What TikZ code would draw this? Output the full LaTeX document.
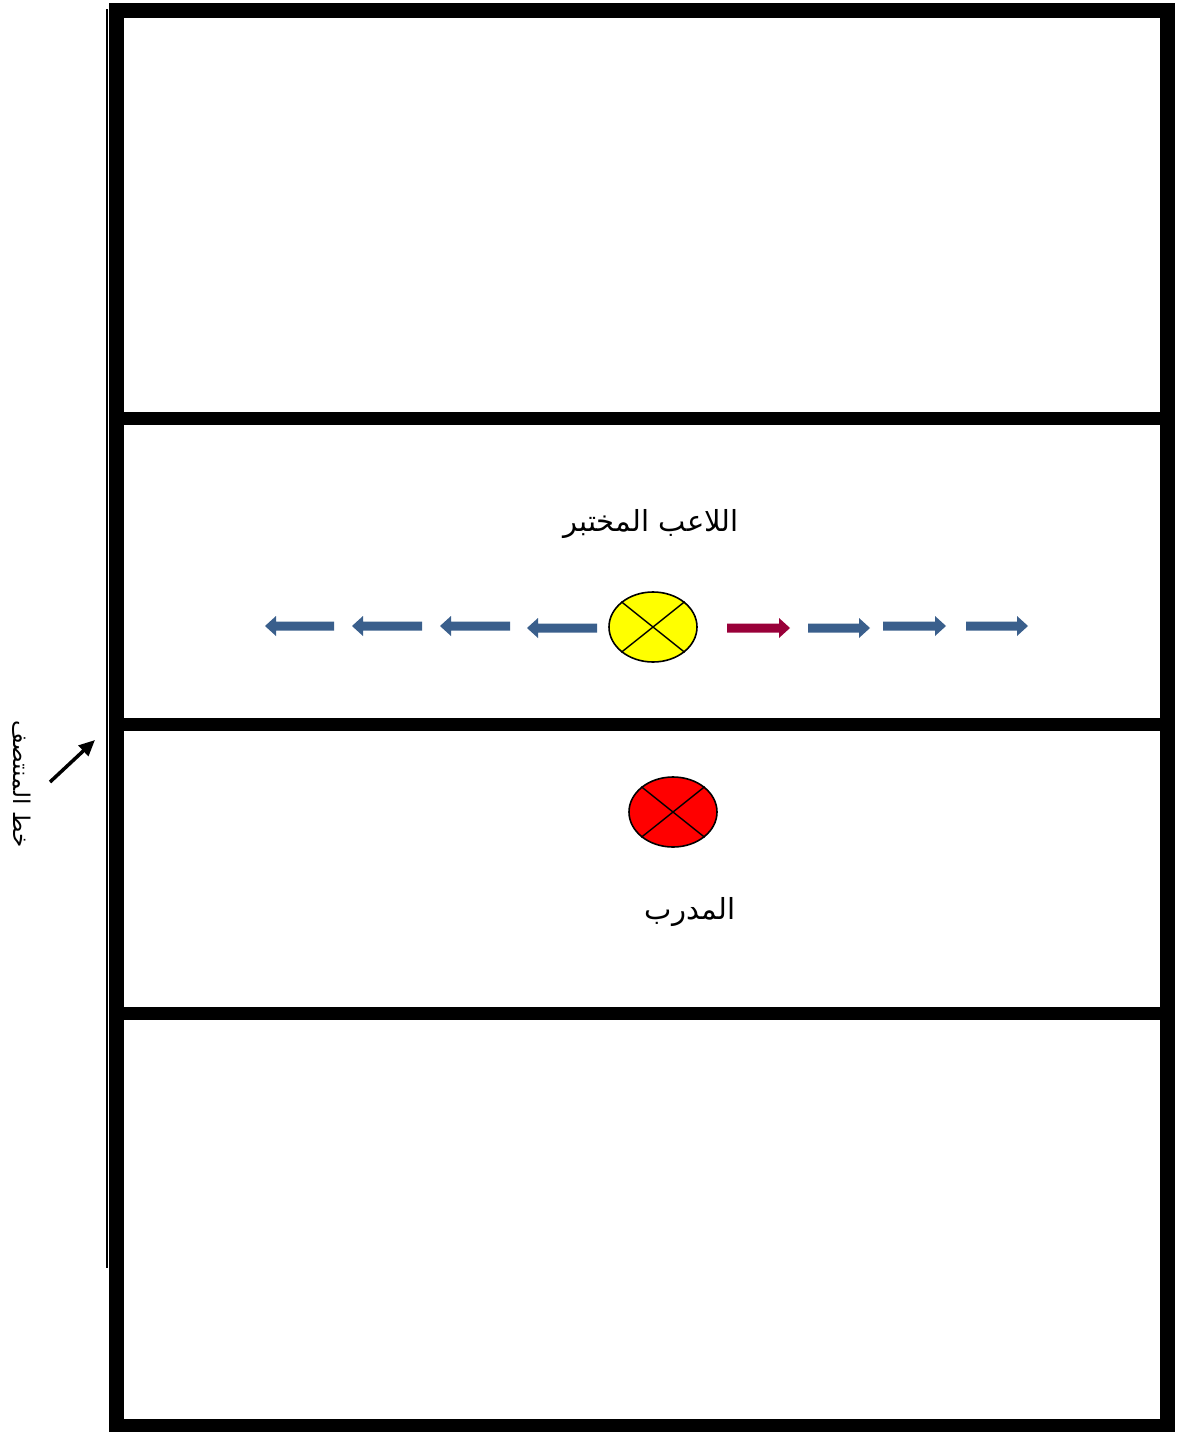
\documentclass[tikz,border=0pt]{standalone}
\usepackage{fontspec}
\newfontfamily\arabicfont[Script=Arabic]{DejaVu Sans}
\TeXXeTstate=1
\usetikzlibrary{shapes.geometric,arrows.meta,calc}
\definecolor{arrblue}{RGB}{58,95,140}
\definecolor{arrred}{RGB}{153,0,57}
\definecolor{plyellow}{RGB}{255,255,0}
\definecolor{plred}{RGB}{255,0,0}
\tikzset{
  court/.style={line width=15pt, line join=miter, line cap=rect},
  divider/.style={line width=13pt},
  player/.style={ellipse, draw=black, line width=1.6pt, minimum width=88pt, minimum height=70pt, inner sep=0pt},
  crossline/.style={line width=1.4pt},
  lbl/.style={font=\arabicfont\fontsize{29}{34}\selectfont, inner sep=0pt},
}
% block arrow pointing right: #1 colour, #2 tail x, #3 tip x, #4 y
\newcommand\blockarr[4]{%
  \fill[#1] (#2,#4-4.5) -- ($(#3,#4-4.5)-(11,0)$) -- ($(#3,#4-10)-(11,0)$) -- (#3,#4) -- ($(#3,#4+10)-(11,0)$) -- ($(#3,#4+4.5)-(11,0)$) -- (#2,#4+4.5) -- cycle;}
% block arrow pointing left
\newcommand\blockarrL[4]{%
  \fill[#1] (#2,#4-4.5) -- ($(#3,#4-4.5)+(11,0)$) -- ($(#3,#4-10)+(11,0)$) -- (#3,#4) -- ($(#3,#4+10)+(11,0)$) -- ($(#3,#4+4.5)+(11,0)$) -- (#2,#4+4.5) -- cycle;}
\begin{document}
\begin{tikzpicture}[x=1pt,y=-1pt]
\useasboundingbox (0,0) rectangle (1177,1432);
% thin outer line
\draw[line width=2pt] (107,9) -- (107,1268);
% court
\draw[court] (116,10) rectangle (1167,1426);
\draw[divider] (116,418) -- (1167,418);
\draw[divider] (116,724) -- (1167,724);
\draw[divider] (116,1013) -- (1167,1013);
% labels
\node[lbl] (lplayer) at (651,524) {\beginR اللاعب المختبر\endR};
\node[lbl] (lcoach) at (690,912) {\beginR المدرب\endR};
% players
\node[player, fill=plyellow] (p) at (653,627) {};
\draw[crossline] (p.north east) -- (p.south west);
\draw[crossline] (p.north west) -- (p.south east);
\node[player, fill=plred] (c) at (673,812) {};
\draw[crossline] (c.north east) -- (c.south west);
\draw[crossline] (c.north west) -- (c.south east);
% movement arrows
\blockarrL{arrblue}{334}{265}{626}
\blockarrL{arrblue}{422}{352}{626}
\blockarrL{arrblue}{510}{440}{626}
\blockarrL{arrblue}{597}{527}{628}
\blockarr{arrred}{727}{790}{628}
\blockarr{arrblue}{808}{870}{628}
\blockarr{arrblue}{883}{946}{626}
\blockarr{arrblue}{966}{1028}{626}
% midline label
\coordinate (mtail) at (50,782);
\coordinate (mtip) at (95,740);
\draw[line width=3.5pt, -{Triangle[length=16pt,width=14pt]}] (mtail) -- (mtip);
\node[font=\arabicfont\fontsize{23}{27}\selectfont, rotate=-90, inner sep=0pt] (mid) at (22,784) {\beginR خط المنتصف\endR};
\end{tikzpicture}
\end{document}
